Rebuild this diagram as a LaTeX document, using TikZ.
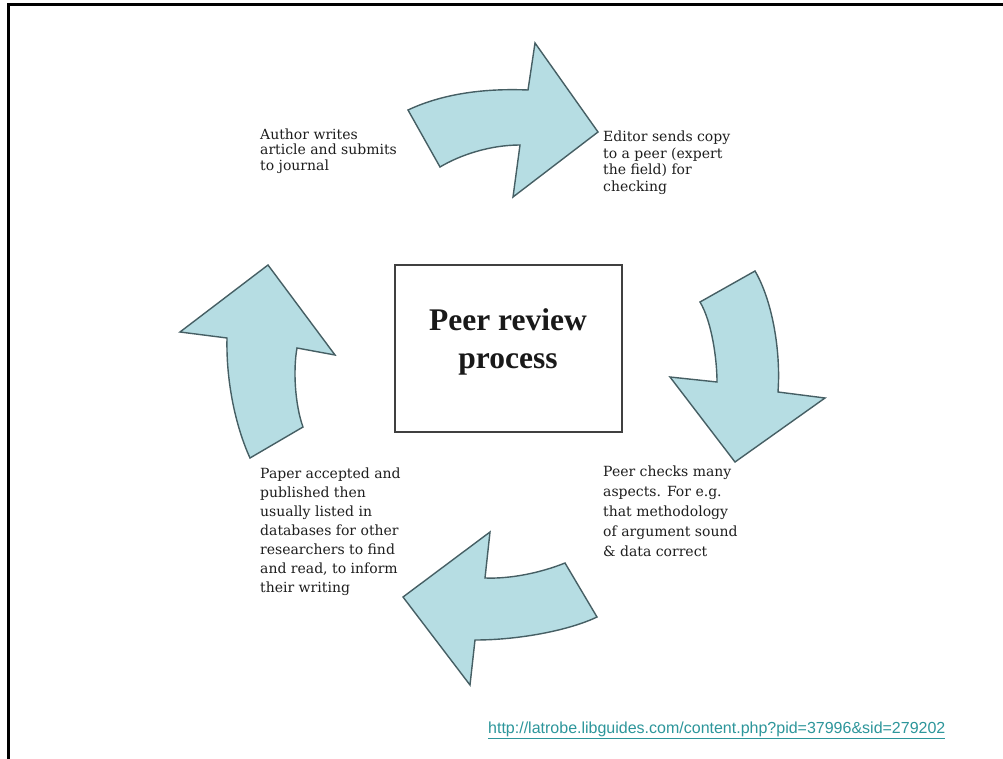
\documentclass[tikz,border=0pt]{standalone}
\usepackage{fontspec}
\setmainfont{DejaVu Serif}
\newfontfamily\titlefont{Liberation Serif}
\newfontfamily\urlfont{Liberation Sans}
\definecolor{arrowfill}{RGB}{182,221,227}
\definecolor{arrowline}{RGB}{70,95,100}
\definecolor{urlcol}{RGB}{45,150,155}
\definecolor{txt}{RGB}{30,30,30}
\tikzset{
  cyclearrow/.style={fill=arrowfill, draw=arrowline, line width=1.4pt, line join=miter},
  steptext/.style={anchor=north west, inner sep=0pt, align=left, text=txt},
  centrebox/.style={draw=black!75, line width=1.5pt, minimum width=227pt, minimum height=167pt, inner sep=0pt},
  titletext/.style={anchor=north, inner sep=0pt, align=center, text=black!90,
    font=\titlefont\bfseries\fontsize{31.5}{38}\selectfont},
  frameline/.style={line width=3pt, draw=black}
}
\begin{document}
\begin{tikzpicture}[x=1pt,y=-1pt]
\useasboundingbox (0,0) rectangle (1003,759);
\fill[white] (0,0) rectangle (1003,759);
% slide frame (top and left edges visible)
\coordinate (fbl) at (8,759);
\coordinate (ftl) at (8,5);
\coordinate (ftr) at (1003,5);
\draw[frameline] (fbl) -- (ftl) -- (ftr);

% centre box
\node[centrebox] (box) at (508.5,348.5) {};
\node[titletext] (title) at (508,308.5) {Peer review\\process};

% top arrow (pointing right)
\draw[cyclearrow] (408,110) .. controls (440,95) and (480,88) .. (528,90)
  -- (535,43) -- (598,132) -- (513,197) -- (520,145)
  .. controls (490,145) and (460,155) .. (440,167) -- cycle;

% right arrow (pointing down)
\draw[cyclearrow] (700,302) -- (755,271)
  .. controls (772,300) and (781,350) .. (778,392)
  -- (825,398) -- (735,462) -- (670,377) -- (717,382)
  .. controls (717,360) and (712,322) .. (700,302) -- cycle;

% bottom arrow (pointing left)
\draw[cyclearrow] (565,563) -- (597,617)
  .. controls (570,630) and (520,640) .. (475,640)
  -- (470,685) -- (403,597) -- (490,532) -- (485,578)
  .. controls (510,579) and (540,573) .. (565,563) -- cycle;

% left arrow (pointing up)
\draw[cyclearrow] (250,458) -- (303,427)
  .. controls (295,405) and (293,370) .. (297,348)
  -- (335,355) -- (268,265) -- (180,332) -- (227,338)
  .. controls (226,380) and (235,425) .. (250,458) -- cycle;

% step texts
\node[steptext, font=\fontsize{14}{15.5}\selectfont] (author) at (260,128.5)
  {Author writes\\article and submits\\to journal};
\node[steptext, font=\fontsize{14}{16.5}\selectfont] (editor) at (603,131)
  {Editor sends copy\\to a peer (expert\\the field) for\\checking};
\node[steptext, font=\fontsize{14}{20}\selectfont] (peer) at (603,466)
  {Peer checks many\\aspects. For e.g.\\that methodology\\of argument sound\\\& data correct};
\node[steptext, font=\fontsize{14}{19}\selectfont] (paper) at (260,468)
  {Paper accepted and\\published then\\usually listed in\\databases for other\\researchers to find\\and read, to inform\\their writing};

% source link
\node[anchor=base west, inner sep=0pt, text=urlcol, font=\urlfont\fontsize{16}{19}\selectfont] (url) at (488,733)
  {\underline{http://latrobe.libguides.com/content.php?pid=37996\&sid=279202}};
\end{tikzpicture}
\end{document}
